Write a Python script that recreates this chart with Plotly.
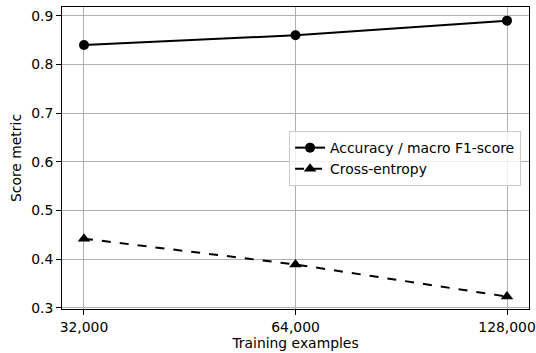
import plotly.graph_objects as go
import math

training_examples = [32000, 64000, 128000]
tick_labels = ["32,000", "64,000", "128,000"]
accuracy_f1 = [0.84, 0.86, 0.89]
cross_entropy = [0.442, 0.389, 0.323]

FONT = "DejaVu Sans"
FS = 13.9

fig = go.Figure()
fig.add_trace(go.Scatter(
    x=training_examples, y=accuracy_f1, mode="lines+markers",
    name="Accuracy / macro F1-score",
    line=dict(color="black", width=2),
    marker=dict(symbol="circle", size=10, color="black"),
))
fig.add_trace(go.Scatter(
    x=training_examples, y=cross_entropy, mode="lines+markers",
    name="Cross-entropy",
    line=dict(color="black", width=2, dash="dash"),
    marker=dict(symbol="triangle-up", size=11, color="black"),
))

lo = math.log10(32000) - 0.0313
hi = math.log10(128000) + 0.0313

fig.update_layout(
    width=536, height=353, autosize=False,
    margin=dict(l=62, r=7, t=7, b=44),
    paper_bgcolor="white", plot_bgcolor="white",
    font=dict(family=FONT, size=FS, color="black"),
    showlegend=True,
    legend=dict(
        x=0.983, y=0.498, xanchor="right", yanchor="middle",
        bgcolor="rgba(255,255,255,0.8)", bordercolor="#cccccc", borderwidth=1,
        font=dict(family=FONT, size=FS, color="black"),
        tracegroupgap=0, itemwidth=30,
    ),
    xaxis=dict(
        type="log", range=[lo, hi],
        tickvals=training_examples, ticktext=tick_labels,
        showgrid=True, gridcolor="#b0b0b0", gridwidth=1,
        showline=True, linecolor="black", linewidth=1, mirror=True,
        ticks="outside", ticklen=5, tickcolor="black",
        title=dict(text="Training examples", font=dict(family=FONT, size=FS), standoff=4),
        zeroline=False, automargin=False,
    ),
    yaxis=dict(
        range=[0.2975, 0.918],
        tickvals=[0.3, 0.4, 0.5, 0.6, 0.7, 0.8, 0.9],
        ticktext=["0.3", "0.4", "0.5", "0.6", "0.7", "0.8", "0.9"],
        showgrid=True, gridcolor="#b0b0b0", gridwidth=1,
        showline=True, linecolor="black", linewidth=1, mirror=True,
        ticks="outside", ticklen=5, tickcolor="black",
        title=dict(text="Score metric", font=dict(family=FONT, size=FS), standoff=6),
        zeroline=False, automargin=False,
    ),
)

fig.write_html(
    "out.html",
    config={"responsive": False, "displayModeBar": False},
    post_script="document.body.style.margin='0';",
)
